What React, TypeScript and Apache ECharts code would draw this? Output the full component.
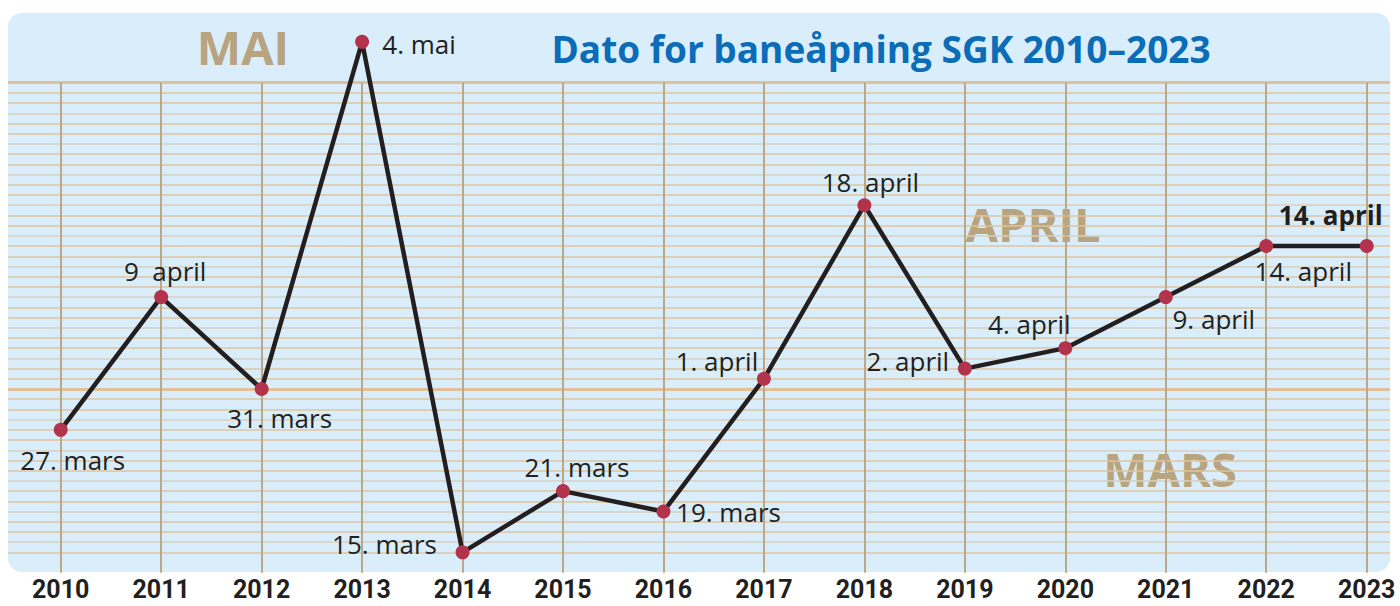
import React, { useEffect, useRef } from "react";
import * as echarts from "echarts";

// Years (x categories)
const years = ["2010", "2011", "2012", "2013", "2014", "2015", "2016", "2017", "2018", "2019", "2020", "2021", "2022", "2023"];
// Opening date as day of year (non-leap): 27 Mar = 86, 1 Apr = 91, 4 May = 124 ...
const openingDay = [86, 99, 90, 124, 74, 80, 78, 91, 108, 92, 94, 99, 104, 104];
// Text labels for each point
const dateLabels = ["27. mars", "9  april", "31. mars", "4. mai", "15. mars", "21. mars", "19. mars", "1. april", "18. april", "2. april", "4. april", "9. april", "14. april", "14. april"];
// Month boundaries (end of March, end of April) as day of year
const monthEnds = [90, 120];
const monthNames = ["MAI", "APRIL", "MARS"];
const title = "Dato for baneåpning SGK 2010–2023";

// label styling (offset of label centre from the point, px)
const labelOffsets: [number, number][] = [
  [12, 30], [4, -26], [18, 29], [57, 2], [-78, -8], [14, -24], [65, 0],
  [-47, -18], [6, -23], [-57, -8], [-36, -24], [48, 22], [37, 25], [-36, -31],
];
const boldLabel = [false, false, false, false, false, false, false, false, false, false, false, false, false, true];

const PX_PER_DAY = 10.21;
const TOP = 82.7;

export default function App() {
  const ref = useRef<HTMLDivElement>(null);
  useEffect(() => {
    document.body.style.margin = "0";
    const chart = echarts.init(ref.current!, null, { renderer: "svg" });
    const minMain = 72;
    const minLines = 74;
    const maxV = monthEnds[1];
    const mainBottom = TOP + (maxV - minMain) * PX_PER_DAY;
    const data = openingDay.map((v, i) => ({
      value: v,
      label: {
        show: true,
        position: "inside",
        offset: labelOffsets[i],
        formatter: dateLabels[i],
        fontFamily: "Open Sans",
        fontSize: 26,
        fontWeight: boldLabel[i] ? "bold" : "normal",
        color: "#231f20",
        align: "center",
        verticalAlign: "middle",
      },
    }));
    chart.setOption({
      animation: false,
      graphic: [
        { type: "rect", z: -10, shape: { x: 8, y: 13, width: 1382, height: 559, r: 14 }, style: { fill: "#d9eefa" } },
        { type: "text", z: -5, x: 243, y: 47, style: { text: monthNames[0], fontFamily: "Open Sans", fontWeight: "bold", fontSize: 47, fill: "#b8a47f", align: "center", verticalAlign: "middle" } },
        { type: "text", z: -5, x: 1033, y: 224, style: { text: monthNames[1], fontFamily: "Open Sans", fontWeight: "bold", fontSize: 47, fill: "#b8a47f", align: "center", verticalAlign: "middle" } },
        { type: "text", z: -5, x: 1170, y: 469, style: { text: monthNames[2], fontFamily: "Open Sans", fontWeight: "bold", fontSize: 47, fill: "#b8a47f", align: "center", verticalAlign: "middle" } },
        { type: "text", z: 10, x: 881, y: 48, style: { text: title, fontFamily: "Open Sans", fontWeight: "bold", fontSize: 37, fill: "#0b6cb8", align: "center", verticalAlign: "middle" } },
      ],
      grid: [
        { left: 60.7, right: 33.3, top: TOP, height: mainBottom - TOP },
        { left: 8, right: 10, top: TOP, height: (maxV - minLines) * PX_PER_DAY },
        { left: 8, right: 10, top: TOP, height: (maxV - monthEnds[0]) * PX_PER_DAY },
      ],
      xAxis: [
        {
          gridIndex: 0,
          type: "category",
          data: years,
          boundaryGap: false,
          z: 2,
          axisLine: { show: false },
          axisTick: { show: false },
          axisLabel: { margin: 4, fontFamily: "Roboto", fontWeight: "bold", fontSize: 25, lineHeight: 25, color: "#231f20" },
          splitLine: { show: true, lineStyle: { color: "#b9a98a", width: 2 } },
        },
        { gridIndex: 1, type: "value", show: false },
        { gridIndex: 2, type: "value", show: false },
      ],
      yAxis: [
        { gridIndex: 0, type: "value", min: minMain, max: maxV, show: false },
        {
          gridIndex: 1, type: "value", min: minLines, max: maxV, interval: 1, z: 0,
          axisLine: { show: false }, axisTick: { show: false }, axisLabel: { show: false },
          splitLine: { show: true, lineStyle: { color: ["#dfc5a0", "#d7d0c2", "#dfc49d"], width: 1.5 } },
        },
        {
          gridIndex: 2, type: "value", min: monthEnds[0], max: monthEnds[1], interval: monthEnds[1] - monthEnds[0], z: 1,
          axisLine: { show: false }, axisTick: { show: false }, axisLabel: { show: false },
          splitLine: { show: true, lineStyle: { color: "#e2c198", width: 3 } },
        },
      ],
      series: [
        {
          type: "line",
          xAxisIndex: 0,
          yAxisIndex: 0,
          data,
          clip: false,
          z: 5,
          symbol: "circle",
          symbolSize: 14,
          lineStyle: { color: "#231f20", width: 4.5 },
          itemStyle: { color: "#b3324c" },
        },
      ],
    });
    return () => chart.dispose();
  }, []);
  return <div ref={ref} style={{ width: 1400, height: 606 }} />;
}
